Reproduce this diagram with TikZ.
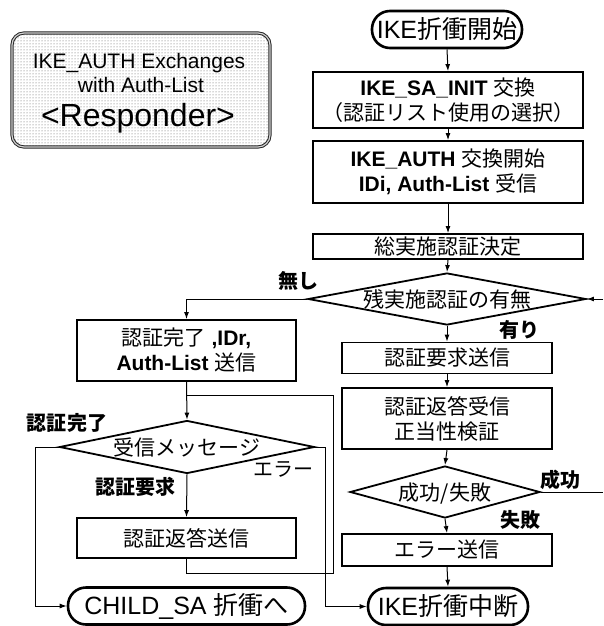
\documentclass[tikz,border=0pt]{standalone}
\usepackage{fontspec}
\setmainfont{Liberation Sans}
\newfontfamily\jpf{Noto Sans CJK JP}
\usetikzlibrary{shapes.geometric,arrows.meta,patterns}
\newcommand\J[1]{{\jpf #1}}
\begin{document}
\begin{tikzpicture}[x=1pt,y=-1pt,
  every node/.style={inner sep=0pt, font=\fontsize{21}{25}\selectfont},
  box/.style={draw, line width=1.8pt, rectangle, align=center},
  term/.style={draw, line width=2.6pt, rounded corners=18pt, minimum height=37pt,
               font=\fontsize{25}{28}\selectfont},
  dec/.style={draw, line width=1.8pt, diamond, text height=16pt, text depth=0pt},
  lab/.style={font=\fontsize{20}{24}\selectfont\jpf\bfseries},
  arr/.style={line width=1pt, -{Latex[length=7pt,width=5pt]}},
  ln/.style={line width=0.9pt},
  titlebox/.style={draw=gray!30!black, line width=1pt, double=gray!35,
               double distance=1.2pt, rounded corners=12pt,
               preaction={fill=white}, pattern=dots, pattern color=gray!70!black},
]
\fill[white] (0,0) rectangle (603,626);
\useasboundingbox (0,0) rectangle (603,626);

% title
\node[titlebox, minimum width=258pt, minimum height=114pt] (title) at (141,90) {};
\node (tt1) at (139,63) {IKE\_AUTH Exchanges};
\node (tt2) at (141,85) {with Auth-List};
\node[font=\fontsize{32}{36}\selectfont] (tt3) at (138,118) {<Responder>};

% right column
\node[term, minimum width=150pt] (T1) at (447,29.5) {IKE\J{折衝開始}};
\node[box, minimum width=270pt, minimum height=56pt] (B1) at (448,100)
  {{\bfseries IKE\_SA\_INIT} \J{交換}\\\J{（認証リスト使用の選択）}};
\node[box, minimum width=270pt, minimum height=62pt] (B2) at (448,172)
  {{\bfseries IKE\_AUTH} \J{交換開始}\\{\bfseries IDi, Auth-List} \J{受信}};
\node[box, minimum width=270pt, minimum height=25pt] (B3) at (448,246.5) {\J{総実施認証決定}};
\node[dec, minimum width=278pt, minimum height=52pt, aspect=5.35] (D1) at (447,299) {\J{残実施認証の有無}};
\node[box, minimum width=210pt, minimum height=31pt] (B4) at (447,358) {\J{認証要求送信}};
\node[box, minimum width=210pt, minimum height=61pt] (B5) at (447,418.5)
  {\J{認証返答受信}\\\J{正当性検証}};
\node[dec, minimum width=190pt, minimum height=52pt, aspect=3.65] (D2) at (445,492) {\J{成功/失敗}};
\node[box, minimum width=210pt, minimum height=32pt] (B6) at (447,550) {\J{エラー送信}};
\node[term, minimum width=160pt] (T2) at (448,606.5) {IKE\J{折衝中断}};

% left column
\node[box, minimum width=219pt, minimum height=61pt] (L1) at (186.5,350.5)
  {\J{認証完了} {\bfseries ,IDr,}\\{\bfseries Auth-List} \J{送信}};
\node[dec, minimum width=255pt, minimum height=53pt, aspect=4.8] (D3) at (187,447) {\J{受信メッセージ}};
\node[box, minimum width=219pt, minimum height=40pt] (L2) at (186.5,538) {\J{認証返答送信}};
\node[term, minimum width=237pt] (T3) at (186.5,606) {CHILD\_SA \J{折衝へ}};

% labels
\node[lab] (lno) at (298,281) {無し};
\node[lab] (lyes) at (519,330) {有り};
\node[lab] (lok) at (560,480) {成功};
\node[lab] (lng) at (520,520) {失敗};
\node[lab] (ldone) at (67,423) {認証完了};
\node[lab] (lreq) at (135,487) {認証要求};
\node[font=\fontsize{20}{24}\selectfont\jpf] (lerr) at (283,469) {エラー};

% helper coordinates
\coordinate (c1) at (35,447);
\coordinate (c2) at (325,447);
\coordinate (c3) at (333,573);
\coordinate (c4) at (186.5,395);
\coordinate (e1) at (603,492);
\coordinate (e2) at (603,299);

% connectors
\draw[arr] (T1.south) -- (B1.north);
\draw[arr] (B1.south) -- (B2.north);
\draw[arr] (B2.south) -- (B3.north);
\draw[arr] (B3.south) -- (D1.north);
\draw[arr] (D1.south) -- (B4.north);
\draw[arr] (B4.south) -- (B5.north);
\draw[arr] (B5.south) -- (D2.north);
\draw[arr] (D2.south) -- (B6.north);
\draw[arr] (B6.south) -- (T2.north);
\draw[arr] (D1.west) -| (L1.north);
\draw[arr] (L1.south) -- (D3.north);
\draw[arr] (D3.south) -- (L2.north);
\draw[arr] (D3.west) -- (c1) |- (T3.west);
\draw[arr] (D3.east) -- (c2) |- (T2.west);
\draw[ln] (L2.south) |- (c3) |- (c4);
\draw[ln] (D2.east) -- (e1);
\draw[arr] (e2) -- (D1.east);
\end{tikzpicture}
\end{document}
